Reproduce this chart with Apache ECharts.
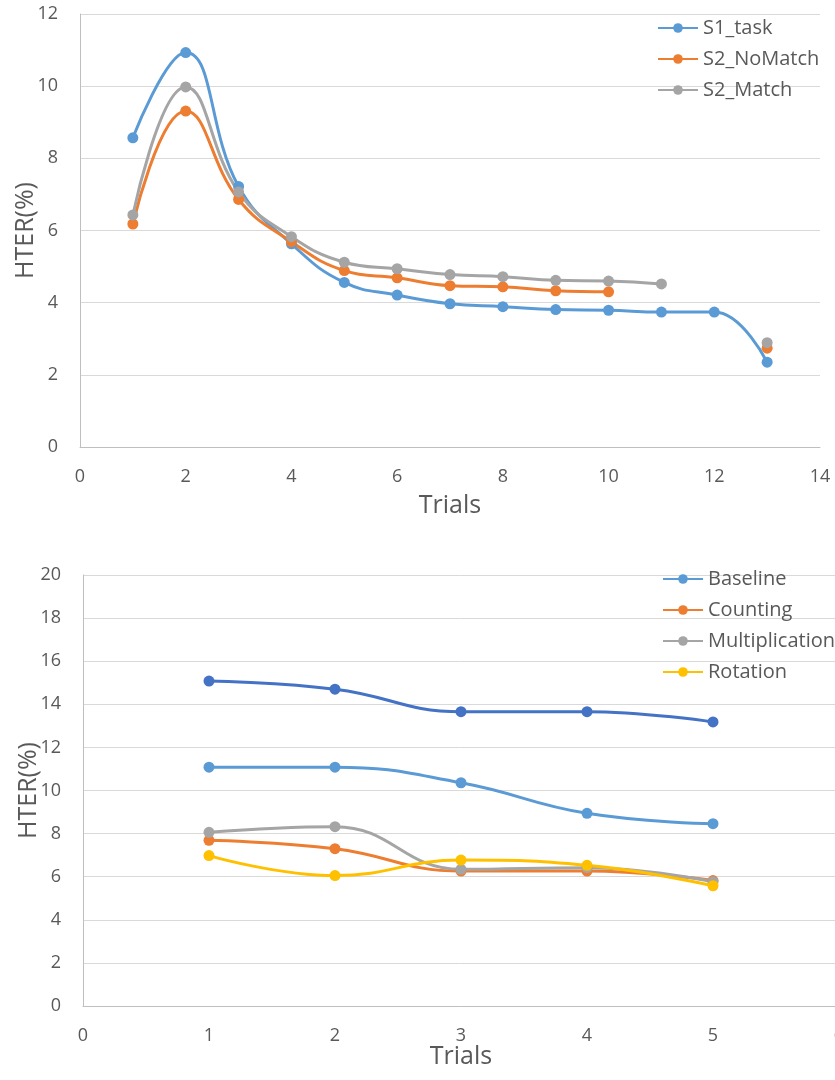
<!DOCTYPE html>
<html>
<head>
<meta charset="utf-8">
<script src="https://cdn.jsdelivr.net/npm/echarts@6/dist/echarts.min.js"></script>
<style>
  html, body { margin: 0; padding: 0; background: #ffffff; }
  #chart { width: 835px; height: 1080px; }
</style>
</head>
<body>
<div id="chart"></div>
<script>
// Upper panel: HTER per trial for the three sessions
const trialsTop = [1, 2, 3, 4, 5, 6, 7, 8, 9, 10, 11, 12, 13];
const s1Task    = [8.57, 10.93, 7.22, 5.63, 4.56, 4.21, 3.97, 3.89, 3.81, 3.79, 3.74, 3.74, 2.35];
const s2NoMatch = [6.18, 9.31, 6.86, 5.69, 4.89, 4.69, 4.47, 4.44, 4.33, 4.30, null, null, 2.74];
const s2Match   = [6.43, 9.98, 7.07, 5.83, 5.12, 4.94, 4.78, 4.72, 4.62, 4.60, 4.52, null, 2.89];

// Lower panel: HTER per trial for each secondary task
const trialsBottom   = [1, 2, 3, 4, 5];
const baseline       = [11.08, 11.08, 10.36, 8.94, 8.46];
const counting       = [7.69, 7.30, 6.26, 6.26, 5.82];
const multiplication = [8.06, 8.32, 6.34, 6.42, 5.77];
const rotation       = [6.98, 6.05, 6.77, 6.53, 5.58];
const series5        = [15.08, 14.70, 13.66, 13.66, 13.18];

const topTicks = [0, 2, 4, 6, 8, 10, 12, 14];
const bottomTicks = [0, 1, 2, 3, 4, 5, 6];

const FONT = '"Open Sans", "Noto Sans", sans-serif';
const TEXT = '#595959';
const GRID = '#D9D9D9';
const AXIS = '#BFBFBF';

function pairs(xs, ys) {
  return xs.map((x, i) => [x, ys[i]]);
}

function lineSeries(name, xs, ys, color, axisIndex) {
  return {
    name: name,
    type: 'line',
    xAxisIndex: axisIndex,
    yAxisIndex: axisIndex,
    data: pairs(xs, ys),
    smooth: 0.45,
    connectNulls: false,
    symbol: 'circle',
    symbolSize: 11,
    showAllSymbol: true,
    lineStyle: { color: color, width: 3 },
    itemStyle: { color: color },
    emphasis: { disabled: true },
    animation: false
  };
}

function valueX(grid, min, max, interval, gap) {
  return {
    type: 'value', gridIndex: grid, min: min, max: max, interval: interval,
    name: 'Trials', nameLocation: 'middle', nameGap: gap, nameMoveOverlap: false,
    nameTextStyle: { fontFamily: FONT, fontSize: 25, color: TEXT },
    axisLine: { show: true, lineStyle: { color: AXIS, width: 1 } },
    axisTick: { show: false },
    splitLine: { show: false },
    axisLabel: { fontFamily: FONT, fontSize: 18, color: TEXT, margin: 21 }
  };
}

function valueY(grid, min, max, interval) {
  return {
    type: 'value', gridIndex: grid, min: min, max: max, interval: interval,
    name: 'HTER(%)', nameLocation: 'middle', nameGap: 42, nameMoveOverlap: false,
    nameTextStyle: { fontFamily: FONT, fontSize: 25, color: TEXT },
    axisLine: { show: true, lineStyle: { color: AXIS, width: 1 } },
    axisTick: { show: false },
    splitLine: { show: true, lineStyle: { color: GRID, width: 1 } },
    axisLabel: { fontFamily: FONT, fontSize: 18, color: TEXT, margin: 22 }
  };
}

const legendText = { fontFamily: FONT, fontSize: 20, color: TEXT, lineHeight: 24 };

const option = {
  backgroundColor: '#ffffff',
  animation: false,
  grid: [
    { left: 80, top: 14, width: 740, height: 433, outerBoundsMode: 'none', containLabel: false },
    { left: 83, top: 575, width: 756, height: 431, outerBoundsMode: 'none', containLabel: false }
  ],
  xAxis: [
    valueX(0, topTicks[0], topTicks[topTicks.length - 1], 2, 46),
    valueX(1, bottomTicks[0], bottomTicks[bottomTicks.length - 1], 1, 38)
  ],
  yAxis: [
    valueY(0, 0, 12, 2),
    valueY(1, 0, 20, 2)
  ],
  legend: [
    {
      data: ['S1_task', 'S2_NoMatch', 'S2_Match'],
      orient: 'vertical', left: 652, top: 11,
      itemWidth: 40, itemHeight: 12, itemGap: 7,
      textStyle: legendText
    },
    {
      data: ['Baseline', 'Counting', 'Multiplication', 'Rotation'],
      orient: 'vertical', left: 657, top: 562,
      itemWidth: 40, itemHeight: 12, itemGap: 7,
      textStyle: legendText
    }
  ],
  series: [
    lineSeries('S1_task', trialsTop, s1Task, '#5B9BD5', 0),
    lineSeries('S2_NoMatch', trialsTop, s2NoMatch, '#ED7D31', 0),
    lineSeries('S2_Match', trialsTop, s2Match, '#A5A5A5', 0),
    lineSeries('Baseline', trialsBottom, baseline, '#5B9BD5', 1),
    lineSeries('Counting', trialsBottom, counting, '#ED7D31', 1),
    lineSeries('Multiplication', trialsBottom, multiplication, '#A5A5A5', 1),
    lineSeries('Rotation', trialsBottom, rotation, '#FFC000', 1),
    lineSeries('Series5', trialsBottom, series5, '#4472C4', 1)
  ]
};

const chart = echarts.init(document.getElementById('chart'), null, { renderer: 'canvas' });
chart.setOption(option);
</script>
</body>
</html>
